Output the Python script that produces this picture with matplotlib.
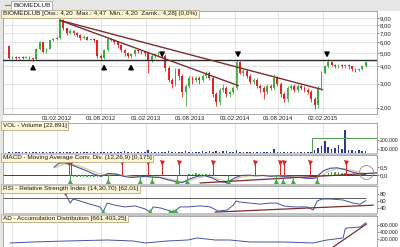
import numpy as np
import pandas as pd
import matplotlib
matplotlib.use("Agg")
import matplotlib.pyplot as plt
import matplotlib.dates as mdates
from matplotlib.patches import Rectangle
from matplotlib.ticker import FixedLocator, FixedFormatter, NullLocator

plt.rcParams['font.family'] = ['Liberation Sans', 'DejaVu Sans']

# ---------------- data ----------------
candle_dates = pd.date_range('2011-07-18', periods=106, freq='14D')
first_open = 5.6
closes = [4.6, 4.7, 4.6, 4.7, 4.65, 4.7, 4.6, 4.5, 5.4, 6.0,
          5.1, 5.4, 6.2, 6.4, 6.5, 8.8, 7.6, 7.0, 7.3, 7.0,
          6.8, 6.5, 6.6, 6.3, 6.4, 6.2, 4.8, 4.6, 5.3, 6.4,
          6.3, 6.0, 5.7, 5.3, 5.0, 4.8, 4.9, 5.3, 5.2, 5.1,
          5.0, 4.4, 4.8, 4.9, 5.0, 4.8, 3.9, 3.2, 3.0, 3.8,
          3.4, 2.6, 2.9, 3.3, 3.2, 3.3, 3.2, 3.4, 3.6, 3.3,
          2.5, 2.2, 2.7, 2.8, 2.5, 2.6, 2.8, 4.3, 3.6, 3.7,
          3.4, 3.1, 3.2, 2.9, 2.8, 2.6, 2.9, 2.8, 3.3, 3.0,
          2.5, 2.3, 2.8, 2.9, 2.7, 2.9, 2.8, 2.7, 2.6, 2.3,
          2.1, 2.8, 3.6, 4.0, 4.3, 4.1, 4.0, 4.1, 4.0, 4.1,
          4.0, 3.8, 3.75, 3.8, 4.0, 4.28]
highs = [5.75, 4.8, 4.75, 4.8, 4.75, 4.8, 4.75, 4.65, 5.5, 6.1,
         6.05, 5.5, 6.3, 6.5, 6.7, 9.0, 8.9, 7.7, 7.5, 7.4,
         7.1, 6.9, 6.8, 6.7, 6.5, 6.5, 6.3, 4.9, 5.4, 6.6,
         6.5, 6.4, 6.1, 5.8, 5.4, 5.1, 5.0, 5.4, 5.4, 5.3,
         5.2, 5.1, 4.9, 5.0, 5.2, 5.1, 4.9, 4.0, 3.3, 3.9,
         3.9, 3.5, 3.0, 3.4, 3.4, 3.4, 3.4, 3.5, 3.7, 3.7,
         3.4, 2.6, 2.8, 3.0, 2.9, 2.7, 2.9, 4.47, 4.4, 3.8,
         3.8, 3.5, 3.3, 3.3, 3.0, 2.9, 3.0, 3.0, 3.5, 3.4,
         3.1, 2.6, 2.9, 3.0, 3.0, 3.0, 3.0, 2.9, 2.8, 2.7,
         2.4, 2.9, 3.7, 4.1, 4.5, 4.35, 4.2, 4.2, 4.15, 4.2,
         4.15, 4.05, 3.9, 3.9, 4.1, 4.4]
lows = [4.5, 4.55, 4.5, 4.55, 4.55, 4.6, 4.5, 4.4, 4.45, 5.3,
        5.0, 5.0, 5.35, 6.1, 6.3, 6.4, 7.4, 6.8, 6.9, 6.8,
        6.6, 6.3, 6.4, 6.2, 6.2, 6.0, 4.6, 4.45, 4.5, 5.2,
        6.1, 5.8, 5.5, 5.1, 4.8, 4.6, 4.6, 4.8, 5.0, 4.9,
        4.8, 3.6, 4.3, 4.6, 4.8, 4.6, 3.7, 3.1, 2.8, 2.9,
        3.2, 2.4, 2.05, 2.8, 3.0, 3.1, 3.0, 3.1, 3.3, 3.2,
        2.4, 2.05, 2.1, 2.6, 2.4, 2.4, 2.5, 2.7, 3.5, 3.4,
        3.3, 3.0, 3.0, 2.8, 2.6, 2.3, 2.5, 2.7, 2.7, 2.9,
        2.4, 2.2, 2.2, 2.7, 2.6, 2.6, 2.7, 2.6, 2.5, 2.2,
        1.95, 2.0, 2.7, 3.5, 3.9, 4.0, 3.9, 3.9, 3.9, 3.9,
        3.85, 3.7, 3.65, 3.7, 3.75, 3.95]
volumes = [62000, 58000, 65000, 60000, 58000, 63000, 60000, 66000,
           64000, 62000, 60000, 63000, 61000, 60000, 62000,
           65000, 60000, 58000, 62000, 60000, 59000, 61000, 60000, 58000,
           60000, 62000, 59000, 61000, 63000, 60000, 58000, 60000, 62000, 61000,
           75000, 60000, 62000, 59000, 61000, 60000, 58000,
           85000, 62000, 60000, 61000, 63000, 60000,
           70000, 62000, 60000, 61000, 59000,
           72000, 60000, 62000, 61000,
           66000, 68000, 64000, 70000, 66000, 68000, 65000, 67000, 72000, 66000, 64000,
           80000, 66000, 62000, 60000,
           60000, 61000, 59000, 62000, 60000, 61000, 60000,
           90000,
           60000, 58000, 61000, 59000, 62000, 60000, 58000, 61000, 60000, 59000,
           62000, 85000, 110000, 130000, 190000, 120000, 100000, 110000, 140000,
           100000, 307000, 80000, 80000, 75000, 80000, 72000, 70000]

level_price = 4.45
trend_a_dates = ['2012-02-13', '2015-01-29']
trend_a_prices = [8.7, 2.71]
trend_b_dates = ['2012-02-13', '2014-02-16']
trend_b_prices = [8.7, 2.9]
up_arrow_dates = ['2011-10-25', '2012-08-13', '2012-12-02']
up_arrow_from, up_arrow_to = 3.8, 4.15
down_arrow_dates = ['2013-04-09', '2014-02-16', '2015-02-18']
down_arrow_from, down_arrow_to = 5.05, 4.65

macd_dates = ['2012-01-20', '2012-02-10', '2012-03-01', '2012-04-01', '2012-05-01', '2012-06-01',
              '2012-07-01', '2012-08-01', '2012-09-01', '2012-10-01', '2012-11-01', '2012-12-01',
              '2013-01-01', '2013-02-01', '2013-03-01', '2013-04-01', '2013-05-01', '2013-06-01',
              '2013-07-01', '2013-08-01', '2013-09-01', '2013-10-01', '2013-11-01', '2013-12-01',
              '2014-01-01', '2014-02-01', '2014-03-01', '2014-04-01', '2014-05-01', '2014-06-01',
              '2014-07-01', '2014-08-01', '2014-09-01', '2014-10-01', '2014-11-01', '2014-12-01',
              '2015-01-01', '2015-02-01', '2015-03-01', '2015-04-01', '2015-05-01', '2015-06-01',
              '2015-07-01', '2015-07-27']
macd_vals = [0.50, 0.72, 0.75, 0.62, 0.45, 0.28, 0.08, -0.05, 0.12, 0.08, -0.05, -0.12,
             -0.08, -0.05, -0.10, -0.12, -0.25, -0.35, -0.42, -0.20, -0.05, 0.00, -0.15, -0.35,
             -0.42, -0.15, 0.00, 0.02, -0.02, 0.00, -0.05, -0.02, -0.08, -0.10, -0.12, -0.18,
             -0.15, 0.25, 0.42, 0.45, 0.35, 0.20, 0.10, 0.05]
signal_vals = [0.45, 0.55, 0.68, 0.68, 0.55, 0.40, 0.22, 0.08, 0.05, 0.08, 0.02, -0.06,
               -0.08, -0.07, -0.08, -0.10, -0.18, -0.28, -0.36, -0.30, -0.15, -0.05, -0.08, -0.22,
               -0.35, -0.28, -0.10, -0.02, 0.00, 0.00, -0.02, -0.03, -0.05, -0.08, -0.10, -0.14,
               -0.15, 0.05, 0.28, 0.40, 0.40, 0.30, 0.18, 0.12]
hist_vals = ([0.0] * 19 + [-0.06, -0.08, -0.06, -0.08, -0.07, -0.06, -0.08, -0.07, -0.06, -0.05]
             + [0.12, 0.15, 0.08] + [0.0] * 21
             + [0.08, 0.10, 0.12, 0.10, 0.08, 0.10, 0.06, 0.04] + [0.0] * 33
             + [0.12, 0.18, 0.20, 0.18, 0.15, 0.12, 0.08] + [0.0] * 5)
macd_sell_dates = ['2012-03-21', '2012-03-30', '2012-10-26', '2013-02-10', '2013-04-09', '2013-06-18',
                   '2013-11-05', '2014-04-27', '2014-08-08', '2014-08-24', '2014-12-10', '2015-05-08']
macd_buy_dates = ['2012-03-26', '2012-08-29', '2013-01-08', '2013-02-27', '2013-06-10', '2013-07-21',
                  '2014-01-06', '2014-07-23', '2014-08-21', '2014-10-01', '2015-01-08']
macd_sell_level, macd_buy_level = 0.72, -0.32
macd_trend_dates = ['2013-09-13', '2015-09-12']
macd_trend_vals = [-0.44, 0.15]
macd_circle_date, macd_circle_val = '2015-07-29', 0.2

rsi_dates = ['2012-02-13', '2012-03-01', '2012-03-13', '2012-03-26', '2012-04-07', '2012-05-06',
             '2012-06-16', '2012-07-27', '2012-08-09', '2012-08-25', '2012-09-27', '2012-11-07',
             '2012-12-19', '2013-01-29', '2013-02-19', '2013-03-03', '2013-04-01', '2013-04-30',
             '2013-05-24', '2013-06-22', '2013-07-25', '2013-09-13', '2013-10-24', '2013-11-26',
             '2014-01-02', '2014-01-27', '2014-02-08', '2014-02-25', '2014-04-07', '2014-05-18',
             '2014-06-28', '2014-07-27', '2014-08-21', '2014-10-01', '2014-11-28', '2014-12-23',
             '2015-01-08', '2015-01-29', '2015-03-03', '2015-04-25', '2015-06-06', '2015-07-05',
             '2015-07-27']
rsi_vals = [87, 84, 73, 55, 67, 61, 52, 44, 29, 55, 49, 44, 47, 38, 29, 44, 41, 35, 29, 44,
            44, 47, 44, 32, 35, 49, 61, 58, 55, 52, 55, 55, 47, 44, 44, 35, 61, 67, 67, 64,
            55, 52, 62]
rsi_sell_dates = ['2012-03-09']
rsi_buy_dates = ['2012-08-09', '2013-02-19', '2013-05-12', '2013-05-24', '2013-06-06']
rsi_sell_level, rsi_buy_level = 84, 31
rsi_trend_dates = ['2013-11-14', '2015-08-27']
rsi_trend_vals = [29, 49]
rsi_upper = 70

ad_dates = ['2011-07-22', '2011-10-25', '2012-03-13', '2012-08-25', '2012-12-10', '2013-01-29',
            '2013-04-30', '2013-07-25', '2013-08-31', '2013-11-14', '2014-01-14', '2014-04-07',
            '2014-08-21', '2014-12-23', '2015-02-18', '2015-04-25', '2015-05-04', '2015-05-12',
            '2015-07-05', '2015-07-27']
ad_vals = [86000, 114000, 143000, 171000, 143000, 86000, 143000, 171000, 229000, 171000,
           171000, 114000, 114000, 86000, 171000, 229000, 486000, 514000, 543000, 661000]
ad_trend_dates = ['2015-03-15', '2015-07-31']
ad_trend_vals = [-30000, 630000]

vol_box_dates = ['2014-12-18', '2015-09-10']
vol_box_vals = [30000, 216000]

tick_dates = ['2011-08-01', '2012-02-01', '2012-08-01', '2013-02-01', '2013-08-01',
              '2014-02-03', '2014-08-01', '2015-02-02']
tick_labels = ['', '01.02.2012', '01.08.2012', '01.02.2013', '01.08.2013',
               '03.02.2014', '01.08.2014', '02.02.2015']
price_ticks = [2, 3, 4, 5, 6, 7, 8, 9]
price_labels = ['2,00', '3,00', '4,00', '5,00', '6,00', '7,00', '8,00', '9,00']

# ---------------- styling ----------------
GREEN = '#3fae3f'
RED = '#e02424'
TREND = '#7a2e2e'
LINEBLUE = '#4453a6'
GRID = '#dadada'
SPINE = '#9a9a9a'
BOXFC = '#fcf5d6'
BOXEC = '#a89a6a'
FS = 4.6
FS_TICK = 4.3
FS_BIG = 3.7

W, H = 400, 247
fig = plt.figure(figsize=(4.0, 2.47), dpi=100, facecolor='white')

fig.add_artist(Rectangle((0, 1 - 11.5 / H), 1, 11.5 / H, transform=fig.transFigure,
                         facecolor='#e6e6e6', edgecolor='none', zorder=0))
fig.add_artist(Rectangle((0, 0), 3 / W, 1, transform=fig.transFigure,
                         facecolor='#e6e6e6', edgecolor='none', zorder=0))


def panel(y0, y1):
    a = fig.add_axes([3 / W, 1 - y1 / H, 374 / W, (y1 - y0) / H])
    a.set_facecolor('white')
    for s in a.spines.values():
        s.set_color(SPINE)
        s.set_linewidth(0.6)
    return a


xlim = mdates.date2num(pd.to_datetime(['2011-06-23', '2015-09-12']))
tick_x = mdates.date2num(pd.to_datetime(tick_dates))


def common(a, yt, yl, fs=FS_TICK):
    a.set_xlim(*xlim)
    a.xaxis.set_major_locator(FixedLocator(tick_x))
    a.xaxis.set_minor_locator(NullLocator())
    a.yaxis.set_major_locator(FixedLocator(yt))
    a.yaxis.set_major_formatter(FixedFormatter(yl))
    a.yaxis.set_minor_locator(NullLocator())
    a.yaxis.tick_right()
    a.tick_params(axis='y', which='both', length=1.5, width=0.5, color='#555555',
                  labelsize=fs, pad=0.6, labelcolor='#222222')
    a.tick_params(axis='x', length=0, labelbottom=False)
    a.grid(True, axis='x', color=GRID, lw=0.5)
    a.set_axisbelow(True)


def label_box(a, text):
    a.text(0.0, 1.0, text, transform=a.transAxes, ha='left', va='top', fontsize=FS,
           color='#1a1a1a', zorder=10,
           bbox=dict(boxstyle='square,pad=0.25', fc=BOXFC, ec=BOXEC, lw=0.5))


cx = mdates.date2num(candle_dates)
c = np.array(closes)
o = np.array([first_open] + closes[:-1])
hi = np.array(highs)
lo = np.array(lows)
col = np.where(c >= o, GREEN, RED)

ARROW = dict(arrowstyle='-|>,head_length=0.55,head_width=0.3', color='black',
             lw=1.1, shrinkA=0, shrinkB=0, mutation_scale=5)

# ---------------- main price panel ----------------
ax = panel(11.5, 113.5)
ax.set_yscale('log')
ax.set_ylim(1.81, 10.1)
common(ax, price_ticks, price_labels)
ax.grid(True, axis='y', color=GRID, lw=0.5)
ax.xaxis.set_major_formatter(FixedFormatter(tick_labels))
ax.tick_params(axis='x', labelbottom=True, labelsize=FS_TICK, pad=2.0, labelcolor='#222222')
ax.vlines(cx, lo, hi, colors=col, lw=0.6, zorder=3)
body = np.maximum(np.abs(c - o), 0.02)
ax.bar(cx, body, bottom=np.minimum(o, c), width=7.5, color=col, lw=0, zorder=4)
ax.axhline(level_price, color='#2a2a2a', lw=1.0, zorder=5)
ax.plot(mdates.date2num(pd.to_datetime(trend_a_dates)), trend_a_prices, color=TREND, lw=1.0, zorder=6)
ax.plot(mdates.date2num(pd.to_datetime(trend_b_dates)), trend_b_prices, color=TREND, lw=1.0, zorder=6)
for d in up_arrow_dates:
    xd = mdates.date2num(pd.Timestamp(d))
    ax.annotate('', xy=(xd, up_arrow_to), xytext=(xd, up_arrow_from), arrowprops=ARROW, zorder=7)
for d in down_arrow_dates:
    xd = mdates.date2num(pd.Timestamp(d))
    ax.annotate('', xy=(xd, down_arrow_to), xytext=(xd, down_arrow_from), arrowprops=ARROW, zorder=7)
label_box(ax, 'BIOMEDLUB [Otw.: 4,20  Max.: 4,47  Min.: 4,20  Zamk.: 4,28] (0,0%)')

# tab at top
fig.text(13 / W, 1 - 5.5 / H, 'BIOMEDLUB', ha='left', va='center', fontsize=FS, color='#1a1a1a',
         bbox=dict(boxstyle='square,pad=0.3', fc='white', ec='#9a9a9a', lw=0.5))
fig.add_artist(plt.Line2D([5 / W, 11 / W], [1 - 5.5 / H, 1 - 5.5 / H], transform=fig.transFigure,
                          color=GREEN, lw=0.8))

# ---------------- volume ----------------
av = panel(123, 153)
av.set_ylim(50000, 386000)
common(av, [100000, 200000], ['100.000', '200.000'], fs=FS_BIG)
av.bar(cx, volumes, width=6.5, color='#2b3a8f', lw=0, zorder=3)
vb = mdates.date2num(pd.to_datetime(vol_box_dates))
av.add_patch(Rectangle((vb[0], vol_box_vals[0]), vb[1] - vb[0], vol_box_vals[1] - vol_box_vals[0],
                       fill=False, edgecolor='#5a9e5a', lw=0.8, zorder=4))
label_box(av, 'VOL - Volume [22.891]')

# ---------------- MACD ----------------
am = panel(155, 183.5)
am.set_ylim(-0.47, 1.2)
common(am, [0.0, 0.5], ['0,0', '0,5'])
am.axhline(0, color='#222222', lw=0.6, zorder=2)
am.bar(cx, hist_vals, width=6.0, color=GREEN, lw=0, zorder=3)
mx = mdates.date2num(pd.to_datetime(macd_dates))
am.plot(mx, signal_vals, color='#d8cc95', lw=0.9, zorder=4)
am.plot(mx, macd_vals, color=LINEBLUE, lw=0.8, zorder=5)
am.plot(mdates.date2num(pd.to_datetime(macd_trend_dates)), macd_trend_vals, color=TREND, lw=0.9, zorder=5)
sx = mdates.date2num(pd.to_datetime(macd_sell_dates))
bx = mdates.date2num(pd.to_datetime(macd_buy_dates))
am.vlines(sx, 0, macd_sell_level, colors=RED, lw=0.7, zorder=6)
am.plot(sx, [macd_sell_level] * len(sx), 'v', color=RED, ms=3.6, mew=0, zorder=7)
am.vlines(bx, macd_buy_level, 0, colors=GREEN, lw=0.7, zorder=6)
am.plot(bx, [macd_buy_level] * len(bx), '^', color=GREEN, ms=3.6, mew=0, zorder=7)
am.plot([mdates.date2num(pd.Timestamp(macd_circle_date))], [macd_circle_val], 'o', ms=10,
        mfc='none', mec='#8a8a8a', mew=0.6, zorder=8)
label_box(am, 'MACD - Moving Average Conv. Div. (12,26,9) [0,175]')

# ---------------- RSI ----------------
ar = panel(186, 212.5)
ar.set_ylim(27.8, 104.6)
common(ar, [40, 60, 80], ['40', '60', '80'])
ar.hlines(rsi_upper, xlim[0], cx[-1], color='#404040', lw=0.6, zorder=2)
ar.plot(mdates.date2num(pd.to_datetime(rsi_dates)), rsi_vals, color=LINEBLUE, lw=0.7, zorder=4)
ar.plot(mdates.date2num(pd.to_datetime(rsi_trend_dates)), rsi_trend_vals, color=TREND, lw=0.9, zorder=5)
ar.plot(mdates.date2num(pd.to_datetime(rsi_sell_dates)), [rsi_sell_level] * len(rsi_sell_dates), 'v',
        color=RED, ms=3.6, mew=0, zorder=6)
ar.plot(mdates.date2num(pd.to_datetime(rsi_buy_dates)), [rsi_buy_level] * len(rsi_buy_dates), '^',
        color=GREEN, ms=3.6, mew=0, zorder=6)
label_box(ar, 'RSI - Relative Strength Index (14,30,70) [62,01]')

# ---------------- AD ----------------
aa = panel(215.5, 247)
aa.set_ylim(-29000, 871000)
common(aa, [200000, 400000, 600000], ['200.000', '400.000', '600.000'], fs=FS_BIG)
aa.plot(mdates.date2num(pd.to_datetime(ad_dates)), ad_vals, color=LINEBLUE, lw=0.7, zorder=4)
aa.plot(mdates.date2num(pd.to_datetime(ad_trend_dates)), ad_trend_vals, color=TREND, lw=0.9, zorder=5)
label_box(aa, 'AD - Accumulation Distribution [661.403,25]')

for y0, y1 in [(153, 155), (183.5, 186), (212.5, 215.5)]:
    fig.add_artist(Rectangle((3 / W, 1 - y1 / H), 374 / W, (y1 - y0) / H, transform=fig.transFigure,
                             facecolor='#c4c4c4', edgecolor='none', zorder=20))

fig.savefig('out.png', dpi=100, facecolor=fig.get_facecolor())
